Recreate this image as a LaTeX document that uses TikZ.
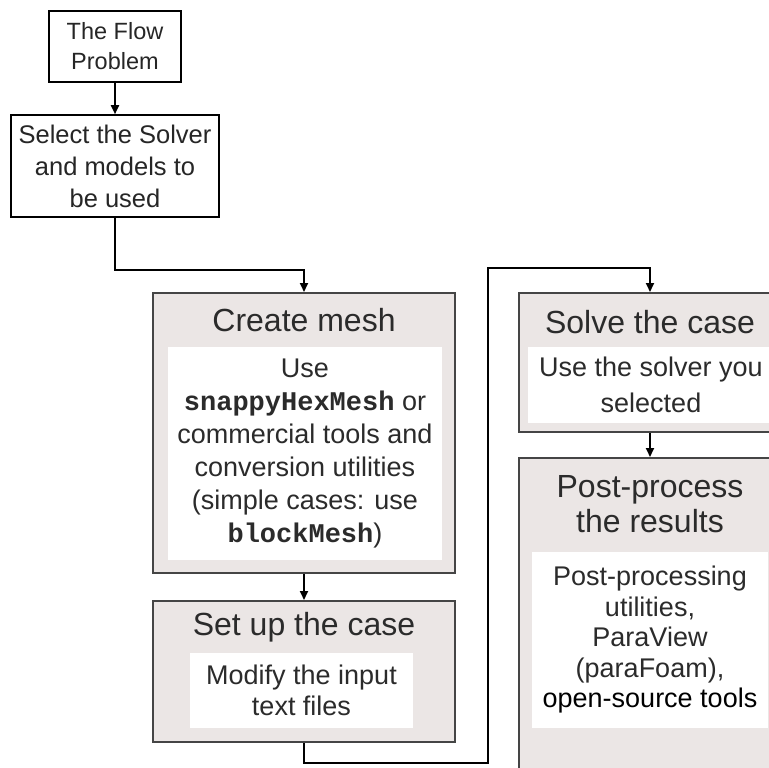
\documentclass[tikz,border=0pt]{standalone}
\usepackage{fontspec}
\setmainfont{Liberation Sans}
\setmonofont{Liberation Mono}
\usetikzlibrary{arrows.meta}

\definecolor{boxgray}{HTML}{EBE6E5}
\definecolor{edgegray}{HTML}{454545}
\definecolor{inkgray}{HTML}{2B2B2B}

\tikzset{
	plainbox/.style={draw=black,line width=1.6pt,fill=white,align=center,inner sep=0pt,text=black!85,font=\fontsize{25.5}{32}\selectfont},
	stagebox/.style={draw=edgegray,line width=2pt,fill=boxgray,inner sep=0pt},
	innerbox/.style={fill=white,inner sep=0pt,align=center,text=inkgray,font=\fontsize{27}{33}\selectfont},
	stagetitle/.style={text=inkgray,align=center,inner sep=0pt,font=\fontsize{32}{35}\selectfont},
	flowline/.style={line width=1.8pt,-{Triangle[length=9pt,width=8pt]}}
}
\newcommand{\cmdname}[1]{{\ttfamily\bfseries #1}}

\begin{document}
\begin{tikzpicture}[x=1pt,y=-1pt]
			\clip (0,0) rectangle (769,768);
			\fill[white] (0,0) rectangle (769,768);

			\node[plainbox,minimum width=132pt,minimum height=71pt,font=\fontsize{23.5}{30}\selectfont] (flow) at (115,46.5) {The Flow\\Problem};
			\node[plainbox,minimum width=208pt,minimum height=102pt] (solver) at (115,166) {Select the Solver\\and models to\\be used};

			% left column
			\node[stagebox,minimum width=302pt,minimum height=280pt] (mesh) at (304,433) {};
			\node[innerbox,minimum width=274pt,minimum height=213pt] (meshtxt) at (305,453.5) {Use\\\cmdname{snappyHexMesh} or\\commercial tools and\\conversion utilities\\(simple cases: use\\\cmdname{blockMesh})};
			\node[stagetitle] (meshhead) at (304,320) {Create mesh};

			\node[stagebox,minimum width=302pt,minimum height=141pt] (setup) at (304,671.5) {};
			\node[innerbox,minimum width=223pt,minimum height=75pt,font=\fontsize{27}{31}\selectfont] (setuptxt) at (301.5,690.5) {Modify the input\\text files};
			\node[stagetitle] (setuphead) at (304,627) {Set up the case};

			% right column
			\node[stagebox,minimum width=262pt,minimum height=139pt] (solve) at (650,362.5) {};
			\node[innerbox,minimum width=246pt,minimum height=76pt,font=\fontsize{27}{36}\selectfont] (solvetxt) at (651,385) {Use the solver you\\selected};
			\node[stagetitle] (solvehead) at (650,322) {Solve the case};

			\node[stagebox,minimum width=262pt,minimum height=360pt] (post) at (650,638) {};
			\node[innerbox,minimum width=236pt,minimum height=176pt,font=\fontsize{27}{30.5}\selectfont] (posttxt) at (650,640) {Post-processing\\utilities,\\ParaView\\(paraFoam),\\{\color{black}open-source tools}};
			\node[stagetitle] (posthead) at (650,504.5) {Post-process\\the results};

			% connectors
			\coordinate (loopB) at (488,763);
			\coordinate (loopT) at (488,268);
			\draw[flowline] (flow.south) -- (solver.north);
			\draw[flowline] (solver.south) -- ++(0,52) -| (mesh.north);
			\draw[flowline] (mesh.south) -- (setup.north);
			\draw[flowline] (setup.south) |- (loopB) -- (loopT) -| (solve.north);
			\draw[flowline] (solve.south) -- (post.north);
		\end{tikzpicture}
\end{document}
